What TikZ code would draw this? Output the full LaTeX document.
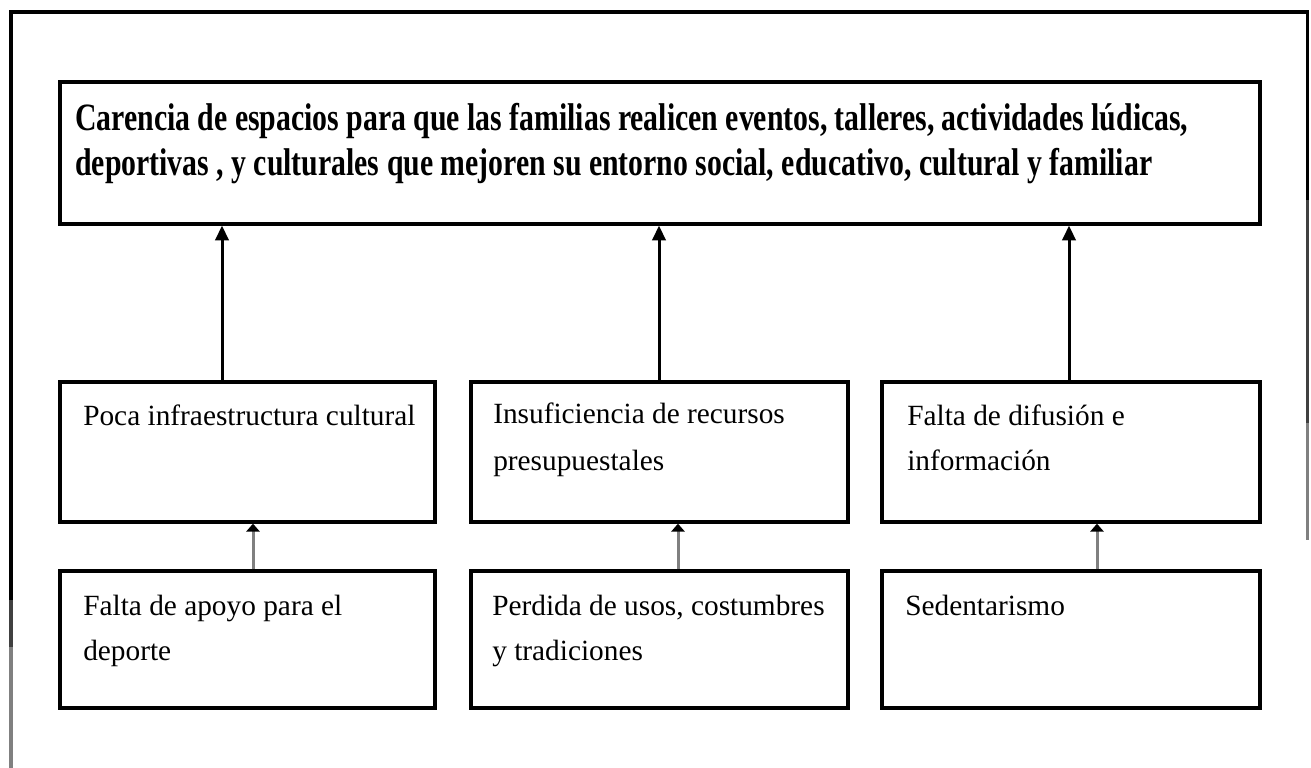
\documentclass[tikz,border=0pt]{standalone}
\usepackage{fontspec}
\setmainfont{Liberation Serif}
\newfontfamily\headfont{Liberation Serif}[FakeStretch=0.77]
\usetikzlibrary{arrows.meta,fit}

\tikzset{
	box/.style={draw, line width=2.5pt, inner sep=0pt},
	cause/.style={anchor=base west, inner sep=0pt, font=\fontsize{22}{26}\selectfont},
	head/.style={anchor=base west, inner sep=0pt, font=\headfont\bfseries\fontsize{29}{34}\selectfont},
	up/.style={line width=2.25pt, -{Triangle[width=10pt,length=11pt]}},
	subup/.style={line width=2.25pt, gray, -{Triangle[width=10pt,length=6pt,color=black]}},
}

\begin{document}
\begin{tikzpicture}[x=0.75pt, y=-0.75pt]
	\useasboundingbox (0,0) rectangle (1311,768);

	% frame of the page
	\draw[line width=2.5pt] (11,600) -- (11,12) -- (1307.5,12) -- (1307.5,200);
	\draw[line width=2.5pt, darkgray] (11,600) -- (11,647);
	\draw[line width=2.5pt, gray] (11,647) -- (11,768);
	\draw[line width=2.5pt, darkgray] (1307.5,200) -- (1307.5,423);
	\draw[line width=2.5pt, gray] (1307.5,423) -- (1307.5,540);

	\node[box, fit={(60,82) (1260,224)}] (carencia) {};
	\node[box, fit={(60,382) (435,522)}] (infra) {};
	\node[box, fit={(471,382) (848,522)}] (recursos) {};
	\node[box, fit={(882,382) (1260,522)}] (difusion) {};
	\node[box, fit={(60,571) (435,708)}] (apoyo) {};
	\node[box, fit={(471,571) (848,708)}] (usos) {};
	\node[box, fit={(882,571) (1260,708)}] (sedent) {};

	\node[head] (carencia1) at (75,130) {Carencia de espacios para que las familias realicen eventos, talleres, actividades lúdicas,};
	\node[head] (carencia2) at (75,175) {deportivas , y culturales que mejoren su entorno social, educativo, cultural y familiar};

	\node[cause] (infra1) at (83,425) {Poca infraestructura cultural};
	\node[cause] (recursos1) at (493,423) {Insuficiencia de recursos};
	\node[cause] (recursos2) at (493,470) {presupuestales};
	\node[cause] (difusion1) at (907,425) {Falta de difusión e};
	\node[cause] (difusion2) at (907,470) {información};

	\node[cause] (apoyo1) at (83,615) {Falta de apoyo para el};
	\node[cause] (apoyo2) at (83,660) {deporte};
	\node[cause] (usos1) at (492,615) {Perdida de usos, costumbres};
	\node[cause] (usos2) at (492,660) {y tradiciones};
	\node[cause] (sedent1) at (905,615) {Sedentarismo};

	\draw[up] (infra.north -| 222,0) -- (carencia.south -| 222,0);
	\draw[up] (recursos.north -| 659,0) -- (carencia.south -| 659,0);
	\draw[up] (difusion.north -| 1069,0) -- (carencia.south -| 1069,0);

	\draw[subup] (apoyo.north -| 253,0) -- (infra.south -| 253,0);
	\draw[subup] (usos.north -| 678,0) -- (recursos.south -| 678,0);
	\draw[subup] (sedent.north -| 1097,0) -- (difusion.south -| 1097,0);

\end{tikzpicture}
\end{document}
